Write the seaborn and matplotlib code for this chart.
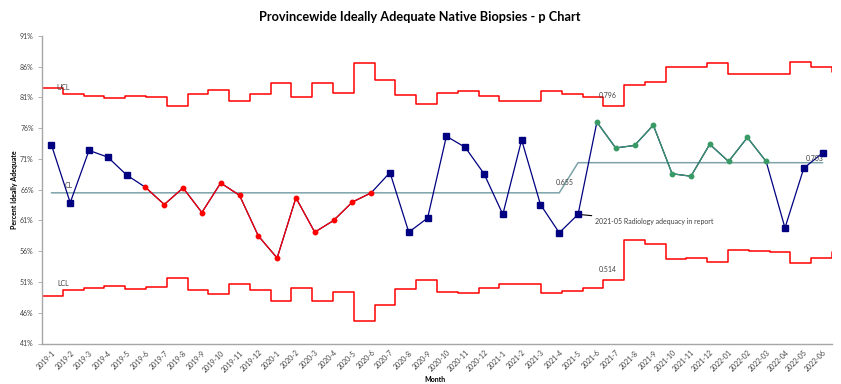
import numpy as np
import pandas as pd
import matplotlib
matplotlib.use("Agg")
import matplotlib.pyplot as plt
import seaborn as sns

months = ["2019-1", "2019-2", "2019-3", "2019-4", "2019-5", "2019-6", "2019-7", "2019-8",
          "2019-9", "2019-10", "2019-11", "2019-12", "2020-1", "2020-2", "2020-3", "2020-4",
          "2020-5", "2020-6", "2020-7", "2020-8", "2020-9", "2020-10", "2020-11", "2020-12",
          "2021-1", "2021-2", "2021-3", "2021-4", "2021-5", "2021-6", "2021-7", "2021-8",
          "2021-9", "2021-10", "2021-11", "2021-12", "2022-01", "2022-02", "2022-03",
          "2022-04", "2022-05", "2022-06"]

pct_adequate = [73.3, 63.9, 72.4, 71.3, 68.4, 66.4, 63.6, 66.3, 62.3, 67.1, 65.1, 58.5,
                54.9, 64.7, 59.1, 61.0, 64.0, 65.5, 68.8, 59.1, 61.4, 74.7, 72.9, 68.6,
                62.0, 74.1, 63.6, 59.0, 62.0, 77.0, 72.8, 73.2, 76.5, 68.6, 68.2, 73.4,
                70.6, 74.5, 70.6, 59.8, 69.5, 72.0]

# n = normal, r = run below centre (red), s = shift above centre (green)
signal = ["n"] * 5 + ["r"] * 13 + ["n"] * 11 + ["s"] * 10 + ["n"] * 3

center_line = [65.5] * 28 + [70.4] * 14

ucl_steps = [82.5, 81.5, 81.2, 80.9, 81.3, 81.0, 79.6, 81.5, 82.2, 80.5, 81.5, 83.3, 81.1,
             83.3, 81.7, 86.6, 83.8, 81.4, 79.9, 81.7, 82.0, 81.2, 80.4, 80.4, 82.0, 81.5,
             81.1, 79.6, 83.0, 83.6, 86.0, 85.9, 86.6, 84.8, 84.9, 84.9, 86.7, 85.9, 85.2]
lcl_steps = [48.7, 49.7, 50.0, 50.3, 49.9, 50.2, 51.6, 49.7, 49.0, 50.6, 49.7, 47.9, 50.1,
             47.9, 49.4, 44.6, 47.3, 49.8, 51.3, 49.4, 49.2, 50.0, 50.7, 50.7, 49.2, 49.6,
             50.1, 51.4, 57.8, 57.2, 54.8, 54.9, 54.3, 56.2, 56.0, 55.9, 54.1, 54.9, 55.8]

y_ticks = [41, 46, 51, 56, 61, 66, 71, 76, 81, 86, 91]

NAVY = "#000080"
RED = "#FF0000"
GREEN = "#3A9A66"
CLC = "#7BA3A8"
TXT = "#404040"

sns.set_theme(style="white")
plt.rcParams["font.family"] = ["Lato", "DejaVu Sans"]

W, H = 841, 384
fig = plt.figure(figsize=(W / 100, H / 100), dpi=100)
ax = fig.add_axes([42 / W, 1 - 343.5 / H, 790 / W, 307.5 / H])

n = len(months)
x = np.arange(n)
df = pd.DataFrame({"x": x, "pct": pct_adequate, "signal": signal, "cl": center_line})

edges = np.linspace(-0.5, n - 0.5, len(ucl_steps))
lim = pd.DataFrame({"x": edges, "ucl": ucl_steps, "lcl": lcl_steps})

sns.lineplot(data=lim, x="x", y="ucl", ax=ax, color=RED, lw=1.1, drawstyle="steps-post",
             estimator=None, sort=False)
sns.lineplot(data=lim, x="x", y="lcl", ax=ax, color=RED, lw=1.1, drawstyle="steps-post",
             estimator=None, sort=False)
sns.lineplot(data=df, x="x", y="cl", ax=ax, color=CLC, lw=1.1, estimator=None, sort=False)

# main series
sns.lineplot(data=df, x="x", y="pct", ax=ax, color=NAVY, lw=0.9, estimator=None, sort=False)
for code, col in [("r", RED), ("s", GREEN)]:
    sub = df[df["signal"] == code]
    sns.lineplot(data=sub, x="x", y="pct", ax=ax, color=col, lw=0.9, estimator=None, sort=False)
    ax.plot(sub["x"], sub["pct"], ls="none", marker="o", ms=3.2, color=col, mec=col, zorder=5)
norm = df[df["signal"] == "n"]
ax.plot(norm["x"], norm["pct"], ls="none", marker="s", ms=4.6, color=NAVY, mec=NAVY, zorder=5)

ax.set_xlim(-0.5, n - 0.5)
ax.set_ylim(41, 91)
ax.set_xticks(x)
ax.set_xticklabels(months, rotation=45, ha="right", rotation_mode="anchor", fontsize=5,
                   color=TXT)
ax.set_xticks(np.arange(n + 1) - 0.5, minor=True)
ax.tick_params(axis="x", which="major", length=0, pad=4)
ax.tick_params(axis="x", which="minor", length=3, width=0.6, color="#A6A6A6", direction="out")
ax.set_yticks(y_ticks)
ax.set_yticklabels([f"{v}%" for v in y_ticks], fontsize=5, color=TXT)
ax.tick_params(axis="y", length=3, width=0.6, color="#A6A6A6", direction="out", pad=3, left=True)
ax.set_xlabel("")
ax.set_ylabel("")
for s in ["top", "right"]:
    ax.spines[s].set_visible(False)
for s in ["left", "bottom"]:
    ax.spines[s].set_color("#A6A6A6")
    ax.spines[s].set_linewidth(1.0)

tk = dict(fontsize=5, color=TXT, ha="center", va="center")
ax.text(0.64, 82.7, "UCL", **tk)
ax.text(0.9, 66.7, "CL", **tk)
ax.text(0.61, 50.7, "LCL", **tk)
ax.text(27.3, 67.15, "0.655", **tk)
ax.text(29.6, 81.3, "0.796", **tk)
ax.text(29.6, 53.1, "0.514", **tk)
ax.text(40.56, 71.1, "0.703", **tk)
ax.annotate("2021-05 Radiology adequacy in report", xy=(28, 62.0), xytext=(28.9, 60.8),
            fontsize=5, color=TXT, ha="left", va="center",
            arrowprops=dict(arrowstyle="-", color="black", lw=0.8, shrinkA=0, shrinkB=2))

fig.text(419.5 / W, 1 - 17 / H, "Provincewide Ideally Adequate Native Biopsies - p Chart",
         ha="center", va="center", fontsize=9.2, fontweight="bold", color="black")
fig.text(15 / W, 1 - 190 / H, "Percent Ideally Adequate", rotation=90, ha="center",
         va="center", fontsize=5, fontweight="bold", color="black")
fig.text(435 / W, 1 - 380 / H, "Month", ha="center", va="center", fontsize=5,
         fontweight="bold", color="black")

fig.savefig("out.png", dpi=100, facecolor="white")
